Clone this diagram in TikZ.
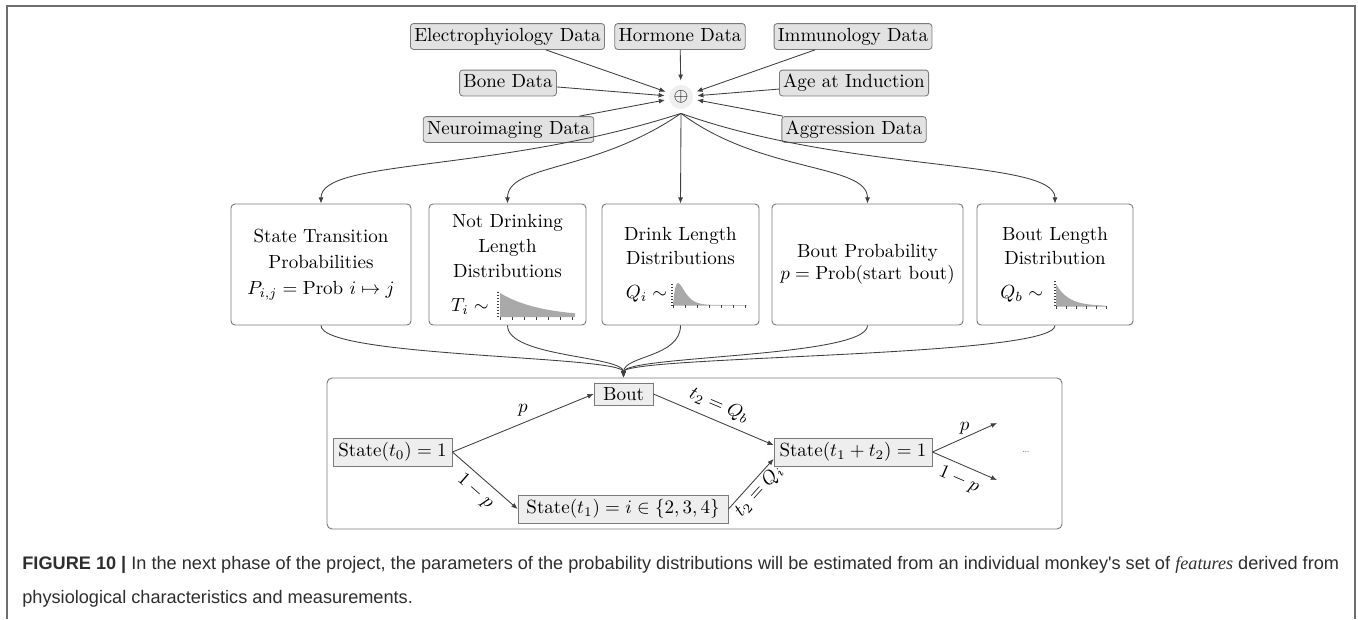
\documentclass[tikz,border=0pt]{standalone}
\usepackage{amsmath}
\usepackage{fontspec}
\newfontfamily\capsans{Liberation Sans}
\newfontfamily\capserif{Liberation Serif}
\usetikzlibrary{arrows.meta,calc}
\newcommand{\pxu}{0.526pt}
\definecolor{linec}{HTML}{3F3F3F}
\definecolor{boxline}{HTML}{7A7A7A}
\definecolor{datafill}{HTML}{E2E2E2}
\definecolor{statefill}{HTML}{EEEEEE}
\definecolor{plusfill}{HTML}{EFEFEF}
\definecolor{plotfill}{HTML}{A9A9A9}
\definecolor{framec}{HTML}{6E6E6E}
\definecolor{capc}{HTML}{2E2E2E}
\tikzset{
  data/.style={draw=boxline, fill=datafill, rounded corners=3*\pxu, inner xsep=2pt, inner ysep=1.8pt,
    text height=7.5pt, text depth=2.5pt, line width=0.45pt},
  midbox/.style={draw=boxline, rounded corners=4*\pxu, minimum height=121*\pxu, align=center,
    inner sep=0pt, line width=0.5pt},
  bigbox/.style={draw=boxline, rounded corners=5*\pxu, minimum width=735*\pxu, minimum height=151*\pxu,
    inner sep=0pt, line width=0.5pt},
  state/.style={draw=boxline, fill=statefill, inner sep=0pt, minimum height=28*\pxu, line width=0.45pt},
  conn/.style={draw=linec, line width=0.45pt, -{Latex[length=3.2pt,width=2.6pt]}},
  captext/.style={anchor=base west, inner sep=0pt, text=capc, font=\capsans\fontsize{9.55}{12}\selectfont},
}
\begin{document}
\begin{tikzpicture}[x=0.526pt, y=-0.526pt, font=\fontsize{10}{12.5}\selectfont]
\useasboundingbox (0,0) rectangle (1358,619);
\fill[white] (0,0) rectangle (1358,619);
% frame
\draw[framec, line width=1pt] (7,619) -- (7,6) -- (1355,6) -- (1355,619);

% data nodes
\node[data] (elec)  at (507.5,36.5) {Electrophyiology Data};
\node[data] (horm)  at (680,36.5)   {Hormone Data};
\node[data] (immu)  at (853,36.5)   {Immunology Data};
\node[data] (bone)  at (508,83)     {Bone Data};
\node[data] (age)   at (854,83)     {Age at Induction};
\node[data] (neuro) at (508.5,129.5) {Neuroimaging Data};
\node[data] (aggr)  at (854,129.5)  {Aggression Data};
\node[circle, fill=plusfill, minimum size=24*\pxu, inner sep=0pt, outer sep=2.3pt] (plus) at (681,97) {$\oplus$};

\foreach \n in {elec,horm,immu,bone,age,neuro,aggr} \draw[conn] (\n) -- (plus);

% middle boxes
\node[midbox, minimum width=180*\pxu, font=\fontsize{10}{13.5}\selectfont] (b1) at (321,264.5)
  {State Transition\\Probabilities\\$P_{i,j} = \text{Prob } i \mapsto j$};
\node[midbox, minimum width=157*\pxu, font=\fontsize{10}{13}\selectfont] (b2) at (507.5,264.5)
  {Not Drinking\\Length\\Distributions\\[5pt]$T_i \sim$\hspace*{39.5pt}};
\node[midbox, minimum width=157*\pxu] (b3) at (680.5,264.5)
  {Drink Length\\Distributions\\[5.5pt]$Q_i \sim$\hspace*{35.8pt}};
\node[midbox, minimum width=191*\pxu, font=\fontsize{10}{11.5}\selectfont] (b4) at (867.5,264.5)
  {Bout Probability\\$p = \text{Prob(start bout)}$};
\node[midbox, minimum width=156*\pxu] (b5) at (1055,264.5)
  {Bout Length\\Distribution\\[5.5pt]$Q_b \sim$\hspace*{35pt}};

% small distribution sketches
\fill[plotfill] (500,317) -- plot[domain=0:75,samples=40] ({500+\x},{317-24*exp(-0.025*\x)}) -- (575,317) -- cycle;
\draw[linec, densely dotted, line width=0.6pt] (498,292) -- (498,319);
\foreach \k in {0,12,...,72} \draw[linec, line width=0.4pt] ({500+\k},317) -- ({500+\k},319.5);

\fill[plotfill] (673,305) -- plot[domain=0:74,samples=70] ({673+\x},{305-22*(\x/5)*exp(1-\x/5)}) -- (747,305) -- cycle;
\draw[linec, densely dotted, line width=0.6pt] (672,284) -- (672,306);
\draw[plotfill!70, line width=0.4pt] (673,305) -- (747,305);
\foreach \k in {0,12,...,72} \draw[linec, line width=0.4pt] ({673+\k},305) -- ({673+\k},307.5);

\fill[plotfill] (1056,306) -- plot[domain=0:50,samples=40] ({1056+\x},{306-22*exp(-0.08*\x)}) -- (1106,306) -- cycle;
\draw[linec, densely dotted, line width=0.6pt] (1055,281) -- (1055,308);
\draw[plotfill!70, line width=0.4pt] (1056,306) -- (1106,306);
\foreach \k in {0,10,...,50} \draw[linec, line width=0.4pt] ({1056+\k},306) -- ({1056+\k},308.5);

% plus -> boxes
\draw[conn] (plus.south) .. controls +(-186,60) and +(0,-45) .. (b1.north);
\draw[conn] (plus.south) .. controls +(-87,60) and +(0,-40) .. (b2.north);
\draw[conn] (plus.south) -- (b3.north);
\draw[conn] (plus.south) .. controls +(80,60) and +(0,-40) .. (b4.north);
\draw[conn] (plus.south) .. controls +(168,60) and +(0,-45) .. (b5.north);

% bottom box
\node[bigbox] (big) at (694.5,453.5) {};
\node[state, minimum width=59*\pxu, minimum height=22*\pxu] (bout) at (623.5,394) {Bout};
\node[state, minimum width=119*\pxu] (s0) at (392.5,452) {State$(t_0) = 1$};
\node[state, minimum width=210*\pxu] (s1) at (623,509) {State$(t_1) = i \in \{2,3,4\}$};
\node[state, minimum width=158*\pxu] (s2) at (853,452) {State$(t_1 + t_2) = 1$};
\node[text=gray, font=\tiny, inner sep=0pt] (dots) at (1026,452) {\ldots};
\coordinate (join) at (bout.north |- big.north);
\coordinate (outp) at (997,423);
\coordinate (outq) at (997,480);

\foreach \b in {b1,b2,b3,b4,b5}
  \draw[conn] (\b.south) .. controls +(0,32) and +(0,-22) .. (join);

\draw[conn] (s0.east) -- node[above] {$p$} (bout.west);
\draw[conn] (s0.east) -- node[sloped, below] {$1-p$} (s1.west);
\draw[conn] (bout.east) -- node[sloped, above] {$t_2 = Q_b$} (s2.175);
\draw[conn] (s1.east) -- node[sloped, below, inner sep=1pt] {$t_2 = Q_i$} (s2.185);
\draw[conn] (s2.east) -- node[above, inner sep=1.5pt] {$p$} (outp);
\draw[conn] (s2.east) -- node[sloped, below] {$1-p$} (outq);

% caption
\node[captext] (cap1) at (22,569) {\textbf{FIGURE 10 |} In the next phase of the project, the parameters of the probability distributions will be estimated from an individual monkey's set of {\capserif\itshape features} derived from};
\node[captext] (cap2) at (22,603) {physiological characteristics and measurements.};
\end{tikzpicture}
\end{document}
